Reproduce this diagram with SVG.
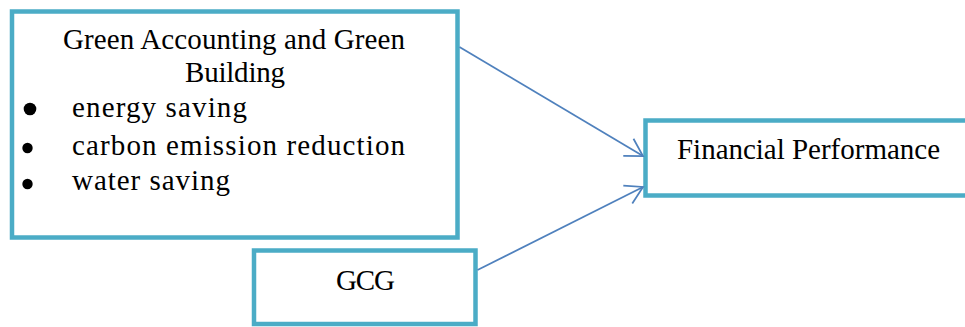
<svg xmlns="http://www.w3.org/2000/svg" width="965" height="327" viewBox="0 0 965 327">
  <style>
    .box { fill: #ffffff; stroke: #4bacc6; stroke-width: 4.5; }
    .txt { font-family: "Liberation Serif", "Times New Roman", serif; font-size: 29px; fill: #000000; }
    .conn { stroke: #4f81bd; stroke-width: 1.75; fill: none; }
  </style>
  <defs>
    <marker id="arrow" markerUnits="userSpaceOnUse" markerWidth="24" markerHeight="24" viewBox="-20 -12 22 24" refX="0" refY="0" orient="auto">
      <path d="M -17,-10 L 0,0 L -17,10" fill="none" stroke="#4f81bd" stroke-width="1.75" stroke-linejoin="miter"/>
    </marker>
  </defs>
  <rect width="965" height="327" fill="#ffffff"/>
  <g id="node-green">
    <rect class="box" x="12" y="11.5" width="445.5" height="226"/>
    <text class="txt" x="63" y="49" textLength="342" lengthAdjust="spacing">Green Accounting and Green</text>
    <text class="txt" x="185" y="82" textLength="100" lengthAdjust="spacing">Building</text>
    <circle cx="30" cy="109" r="6.3" fill="#000000"/>
    <text class="txt" x="72" y="117" textLength="175" lengthAdjust="spacing">energy saving</text>
    <circle cx="27.5" cy="148" r="5.2" fill="#000000"/>
    <text class="txt" x="72" y="155" textLength="333" lengthAdjust="spacing">carbon emission reduction</text>
    <circle cx="27.5" cy="184" r="5.2" fill="#000000"/>
    <text class="txt" x="72" y="190" textLength="158" lengthAdjust="spacing">water saving</text>
  </g>
  <g id="node-financial">
    <rect class="box" x="645.5" y="120.5" width="330" height="75"/>
    <text class="txt" x="677" y="159" textLength="263" lengthAdjust="spacing">Financial Performance</text>
  </g>
  <g id="node-gcg">
    <rect class="box" x="254" y="250.5" width="221.5" height="73.5"/>
    <text class="txt" x="336" y="290" textLength="59" lengthAdjust="spacing">GCG</text>
  </g>
  <g id="connectors">
    <line class="conn" x1="459.5" y1="47" x2="643" y2="156" marker-end="url(#arrow)"/>
    <line class="conn" x1="477.5" y1="270" x2="643" y2="187" marker-end="url(#arrow)"/>
  </g>
</svg>
